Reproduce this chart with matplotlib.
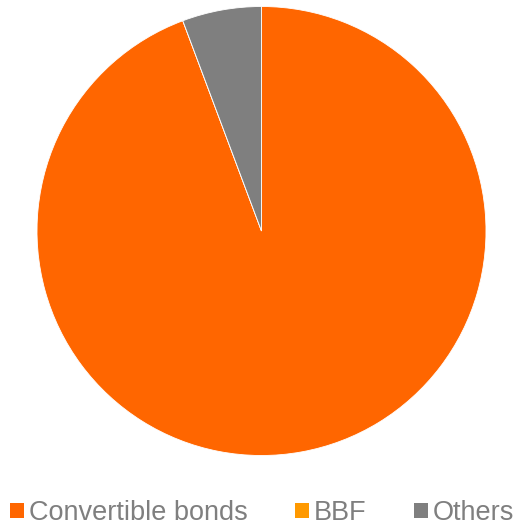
import matplotlib.pyplot as plt
from matplotlib.patches import Patch

labels = ["Convertible bonds", "BBF", "Others"]
values = [94.3, 0.0, 5.7]
colors = ["#ff6600", "#ff9900", "#7f7f7f"]

plt.rcParams['font.family'] = ['Liberation Sans', 'DejaVu Sans']
fig = plt.figure(figsize=(5.17, 5.26), dpi=100)
ax = fig.add_axes([37/517, 1 - 456/526, 449/517, 450/526])
ax.pie(values, colors=colors, startangle=90, counterclock=False, radius=1,
       wedgeprops=dict(edgecolor='white', linewidth=0.6))
ax.set_xlim(-1, 1)
ax.set_ylim(-1, 1)
ax.set_aspect('equal')
ax.axis('off')

handles = [Patch(facecolor=c, edgecolor='none') for c in colors]
leg = fig.legend(handles, labels, loc='center', bbox_to_anchor=(262/517, 1 - 513/526),
                 ncol=3, frameon=False, fontsize=19.5, handlelength=0.52, handleheight=0.52,
                 handletextpad=0.18, columnspacing=1.74, labelcolor='#7f7f7f',
                 borderpad=0, borderaxespad=0)
fig.savefig('out.png', dpi=100)
